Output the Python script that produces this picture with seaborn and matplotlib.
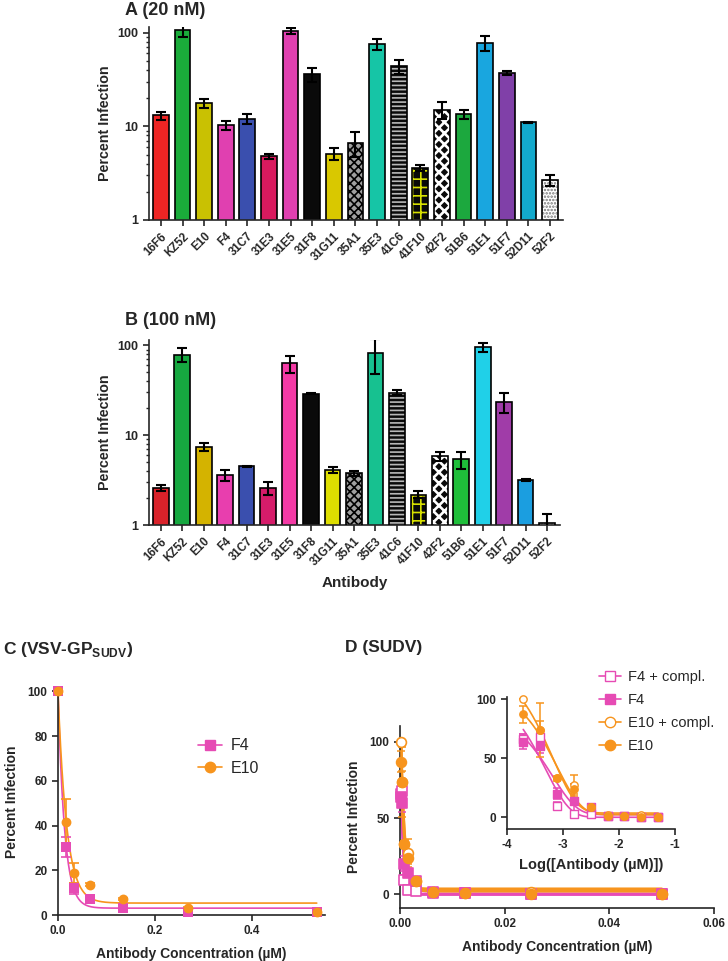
import numpy as np
import matplotlib
matplotlib.use("Agg")
import matplotlib.pyplot as plt
import seaborn as sns
from matplotlib.lines import Line2D
from matplotlib.patches import Rectangle
from matplotlib.ticker import FixedLocator, FuncFormatter, LogLocator, NullFormatter

# === Data: panels A / B (percent infection, log scale) ===
antibodies = ["16F6", "KZ52", "E10", "F4", "31C7", "31E3", "31E5", "31F8", "31G11", "35A1",
              "35E3", "41C6", "41F10", "42F2", "51B6", "51E1", "51F7", "52D11", "52F2"]

inf_20nM = [13.1, 107, 17.6, 10.3, 12.1, 4.77, 104, 35.8, 5.1, 6.7,
            75.6, 43.6, 3.6, 15.0, 13.4, 77.5, 37.0, 11.0, 2.68]
err_20nM = [1.3, 18, 2.0, 1.1, 1.6, 0.25, 8, 6, 0.7, 2.0,
            11, 7.5, 0.3, 3.0, 1.4, 14, 2.0, 0.2, 0.38]

inf_100nM = [2.57, 79, 7.4, 3.56, 4.52, 2.57, 63, 29.1, 4.08, 3.78,
             82.8, 29.8, 2.18, 5.85, 5.37, 95, 23.5, 3.21, 1.06]
err_100nM = [0.2, 14, 0.8, 0.5, 0.05, 0.43, 14, 0.3, 0.3, 0.25,
             35, 1.8, 0.2, 0.7, 1.2, 11, 5.8, 0.08, 0.25]

colors_20nM = ["#ee2524", "#1aab3a", "#c9c102", "#e040b0", "#3a4fae", "#d91a5e", "#e040b0",
               "#0a0a0a", "#d9c800", "#a0a0a0", "#16c5a6", "#0a0a0a", "#0a0a0a", "#0a0a0a",
               "#1ca83e", "#19a6df", "#8040a8", "#13a9cc", "#ffffff"]
colors_100nM = ["#d9222a", "#16a840", "#d4b300", "#e83eae", "#3a4fae", "#d61c6a", "#f43aa6",
                "#0a0a0a", "#dede00", "#a0a0a0", "#17c190", "#0a0a0a", "#0a0a0a", "#0a0a0a",
                "#1fbf3a", "#20d0e8", "#a03ca8", "#1b9ee0", "#ffffff"]

# hatched bars: name -> (hatch, hatch colour)
hatches_20nM = {"35A1": ("xxxx", "black"), "41C6": ("----", "#b8b8b8"),
                "41F10": ("++", "#d8e000"), "42F2": ("xxx", "white"), "52F2": (".....", "#777777")}
hatches_100nM = {"35A1": ("xxxx", "black"), "41C6": ("----", "#b8b8b8"),
                 "41F10": ("++", "#d8e000"), "42F2": ("xxx", "white"), "52F2": (".....", "#777777")}

# === Data: panel C (VSV-GP SUDV) ===
conc_C = [0.0, 0.0167, 0.0333, 0.0667, 0.133, 0.267, 0.533]
f4_C = [100, 30.3, 12.0, 7.3, 3.1, 1.2, 1.2]
f4_C_err = [0, 4.5, 2.5, 0.5, 0.4, 0.3, 0.3]
e10_C = [100, 41.8, 18.7, 13.5, 7.1, 3.3, 1.2]
e10_C_err = [0, 10, 4.5, 0.6, 0.5, 0.4, 0.3]

# === Data: panel D (SUDV) ===
conc_D = [0.000195, 0.00039, 0.00078, 0.00156, 0.003125, 0.00625, 0.0125, 0.025, 0.05]
f4c_D = [66, 68, 9.5, 3.0, 2.3, 1.1, 0.8, 0.0, 0.0]
f4c_D_err = [4, 4, 3, 1, 0.5, 0.3, 0.3, 0.2, 0.2]
f4_D = [64, 60, 20, 14, 8.5, 1.4, 0.8, 0.3, 0.3]
f4_D_err = [6, 6, 5, 14, 1, 0.5, 0.3, 0.2, 0.2]
e10c_D = [100, 74, 33, 27, 9, 1.7, 0.8, 1.7, 0.3]
e10c_D_err = [0, 23, 1, 9, 1, 0.5, 0.3, 0.3, 0.2]
e10_D = [87, 74, 33, 24, 9, 1.4, 0.8, 0.3, 0.0]
e10_D_err = [7, 7, 2, 4, 1, 0.5, 0.3, 0.3, 0.2]

PINK = "#e64bb4"
ORANGE = "#f7941d"

sns.set_style("ticks")
plt.rcParams["font.family"] = ["Liberation Sans", "DejaVu Sans"]
plt.rcParams["mathtext.fontset"] = "custom"
plt.rcParams["mathtext.bf"] = "Liberation Sans:bold"
plt.rcParams["mathtext.rm"] = "Liberation Sans"
plt.rcParams["hatch.linewidth"] = 1.2
plt.rcParams["axes.linewidth"] = 1.2
plt.rcParams["axes.unicode_minus"] = False


def fit_decay(x, y):
    # one-phase exponential decay fit: y = plateau + span * exp(-k x)
    x = np.asarray(x, float)
    y = np.asarray(y, float)
    best = None
    for k in np.logspace(0, 5, 3000):
        A = np.column_stack([np.ones_like(x), np.exp(-k * x)])
        coef = np.linalg.lstsq(A, y, rcond=None)[0]
        sse = np.sum((A @ coef - y) ** 2)
        if best is None or sse < best[0]:
            best = (sse, coef[0], coef[1], k)
    return best[1:]


def draw_bars(ax, vals, errs, colors, hatches):
    sns.barplot(x=antibodies, y=vals, hue=antibodies, palette=colors, legend=False,
                saturation=1, width=0.73, edgecolor="black", linewidth=1.2,
                errorbar=None, ax=ax)
    for bar in list(ax.patches):
        i = int(round(bar.get_x() + bar.get_width() / 2))
        name = antibodies[i]
        if name in hatches:
            h, hc = hatches[name]
            bar.set_hatch(h)
            bar.set_edgecolor(hc)
            bar.set_linewidth(0)
            if name == "42F2":
                try:
                    bar.set_hatch_linewidth(1.9)
                except AttributeError:
                    pass
            ax.add_patch(Rectangle(bar.get_xy(), bar.get_width(), bar.get_height(),
                                   fill=False, edgecolor="black", linewidth=1.2, zorder=3))
    ax.errorbar(range(len(vals)), vals, yerr=errs, fmt="none", ecolor="black",
                elinewidth=1.5, capsize=3.5, capthick=1.5, zorder=5)
    ax.set_yscale("log")
    ax.set_ylim(1, 115)
    ax.set_xlim(-0.55, 18.6)
    ax.yaxis.set_major_locator(FixedLocator([1, 10, 100]))
    ax.yaxis.set_major_formatter(FuncFormatter(lambda v, p: f"{v:g}"))
    ax.yaxis.set_minor_locator(LogLocator(base=10, subs=np.arange(2, 10)))
    ax.yaxis.set_minor_formatter(NullFormatter())
    ax.tick_params(axis="y", which="major", length=4, width=1.2, labelsize=9)
    ax.tick_params(axis="y", which="minor", length=2.5, width=1.0)
    ax.tick_params(axis="x", length=4, width=1.2, labelsize=8.3)
    ax.set_xticks(range(len(antibodies)))
    ax.set_xticklabels(antibodies, rotation=45, ha="right", rotation_mode="anchor",
                       fontweight="bold")
    for t in ax.get_yticklabels():
        t.set_fontweight("bold")
    ax.set_ylabel("Percent Infection", fontsize=10.3, fontweight="bold", labelpad=4)
    ax.set_xlabel("")
    sns.despine(ax=ax)


fig = plt.figure(figsize=(7.28, 9.61), dpi=100)
axA = fig.add_axes([149 / 728, 1 - 220 / 961, 414 / 728, 193 / 961])
axB = fig.add_axes([149 / 728, 1 - 525 / 961, 411 / 728, 185 / 961])
axC = fig.add_axes([58 / 728, 1 - 915 / 961, 267 / 728, 227 / 961])
axD = fig.add_axes([400 / 728, 1 - 908 / 961, 314 / 728, 182 / 961])
axI = fig.add_axes([507 / 728, 1 - 829 / 961, 168 / 728, 132 / 961])

# === A / B ===
draw_bars(axA, inf_20nM, err_20nM, colors_20nM, hatches_20nM)
draw_bars(axB, inf_100nM, err_100nM, colors_100nM, hatches_100nM)
axB.set_xlabel("Antibody", fontsize=11, fontweight="bold", labelpad=6)

fig.text(125 / 728, 1 - 2 / 961, "A (20 nM)", fontsize=13, fontweight="bold", va="top")
fig.text(125 / 728, 1 - 312 / 961, "B (100 nM)", fontsize=13, fontweight="bold", va="top")
fig.text(3 / 728, 1 - 640 / 961, r"C (VSV-GP$_{\mathbf{SUDV}}$)", fontsize=12.5,
         fontweight="bold", va="top")
fig.text(345 / 728, 1 - 640 / 961, "D (SUDV)", fontsize=12.5, fontweight="bold", va="top")


def style_xy(ax, size=8.5):
    ax.tick_params(length=4, width=1.2, labelsize=size)
    for t in ax.get_xticklabels() + ax.get_yticklabels():
        t.set_fontweight("bold")
    sns.despine(ax=ax)


# === C ===
for yv, ev, col, mk in [(f4_C, f4_C_err, PINK, "s"), (e10_C, e10_C_err, ORANGE, "o")]:
    plat, span, k = fit_decay(conc_C, yv)
    xs = np.linspace(min(conc_C), max(conc_C), 600)
    sns.lineplot(x=xs, y=plat + span * np.exp(-k * xs), color=col, linewidth=1.2, ax=axC)
    axC.errorbar(conc_C, yv, yerr=ev, fmt="none", ecolor=col, elinewidth=1.2,
                 capsize=3.5, capthick=1.2, clip_on=False, zorder=4)
    sns.scatterplot(x=conc_C, y=yv, marker=mk, color=col, s=50, linewidth=0,
                    ax=axC, clip_on=False, zorder=5)
axC.set_xlim(0, 0.55)
axC.set_ylim(0, 101.5)
axC.set_xticks([0, 0.2, 0.4])
axC.xaxis.set_major_formatter(FuncFormatter(lambda v, p: f"{v:.1f}"))
axC.set_yticks([0, 20, 40, 60, 80, 100])
axC.set_xlabel("Antibody Concentration (\u00b5M)", fontsize=10, fontweight="bold", labelpad=7)
axC.set_ylabel("Percent Infection", fontsize=10, fontweight="bold", labelpad=6)
style_xy(axC)
axC.legend(handles=[Line2D([], [], color=PINK, marker="s", markersize=7.5, lw=1.2, label="F4"),
                    Line2D([], [], color=ORANGE, marker="o", markersize=7.5, lw=1.2, label="E10")],
           loc="upper left", bbox_to_anchor=(192 / 728, 1 - 732 / 961),
           bbox_transform=fig.transFigure, frameon=False, fontsize=11.5, handlelength=1.5,
           handletextpad=0.5, labelspacing=0.45, borderaxespad=0)

# === D (main + inset) ===
series_D = [
    (f4c_D, f4c_D_err, PINK, "s", True, "F4 + compl."),
    (f4_D, f4_D_err, PINK, "s", False, "F4"),
    (e10c_D, e10c_D_err, ORANGE, "o", True, "E10 + compl."),
    (e10_D, e10_D_err, ORANGE, "o", False, "E10"),
]
conc_log = np.log10(conc_D)
handles = []
for yv, ev, col, mk, hollow, lab in series_D:
    plat, span, k = fit_decay(conc_D, yv)
    xs = np.geomspace(min(conc_D), max(conc_D), 800)
    fit_y = plat + span * np.exp(-k * xs)
    sns.lineplot(x=xs, y=fit_y, color=col, linewidth=2.2, ax=axD)
    sns.lineplot(x=np.log10(xs), y=fit_y, color=col, linewidth=1.2, ax=axI)
    fc = "white" if hollow else col
    for ax, xv, ms, ew in [(axD, conc_D, 50, 1.2), (axI, conc_log, 28, 1.0)]:
        ax.errorbar(xv, yv, yerr=ev, fmt="none", ecolor=col, elinewidth=1.1,
                    capsize=3, capthick=1.1, zorder=4, clip_on=False)
        sns.scatterplot(x=xv, y=yv, marker=mk, s=ms, facecolor=fc, edgecolor=col,
                        linewidth=ew, ax=ax, zorder=5, clip_on=False)
    handles.append(Line2D([], [], color=col, marker=mk, markersize=7.5, lw=1.2,
                          markerfacecolor=fc, markeredgecolor=col, label=lab))

axD.set_xlim(0, 0.06)
axD.set_ylim(-9, 110.5)
axD.set_xticks([0, 0.02, 0.04, 0.06])
axD.xaxis.set_major_formatter(FuncFormatter(lambda v, p: f"{v:.2f}"))
axD.set_yticks([0, 50, 100])
axD.set_xlabel("Antibody Concentration (\u00b5M)", fontsize=10, fontweight="bold", labelpad=7)
axD.set_ylabel("Percent Infection", fontsize=10, fontweight="bold", labelpad=6)
style_xy(axD)
axD.legend(handles=handles, loc="upper left", bbox_to_anchor=(593 / 728, 1 - 664 / 961),
           bbox_transform=fig.transFigure, frameon=False, fontsize=10.5, handlelength=1.5,
           handletextpad=0.5, labelspacing=0.62, borderaxespad=0)

axI.set_xlim(-4, -1)
axI.set_ylim(-10, 101.7)
axI.set_xticks([-4, -3, -2, -1])
axI.set_yticks([0, 50, 100])
axI.set_xlabel("Log([Antibody (\u00b5M)])", fontsize=10.5, fontweight="bold", labelpad=5)
axI.set_ylabel("")
axI.patch.set_alpha(0)
style_xy(axI)

fig.savefig("out.png", dpi=100)
